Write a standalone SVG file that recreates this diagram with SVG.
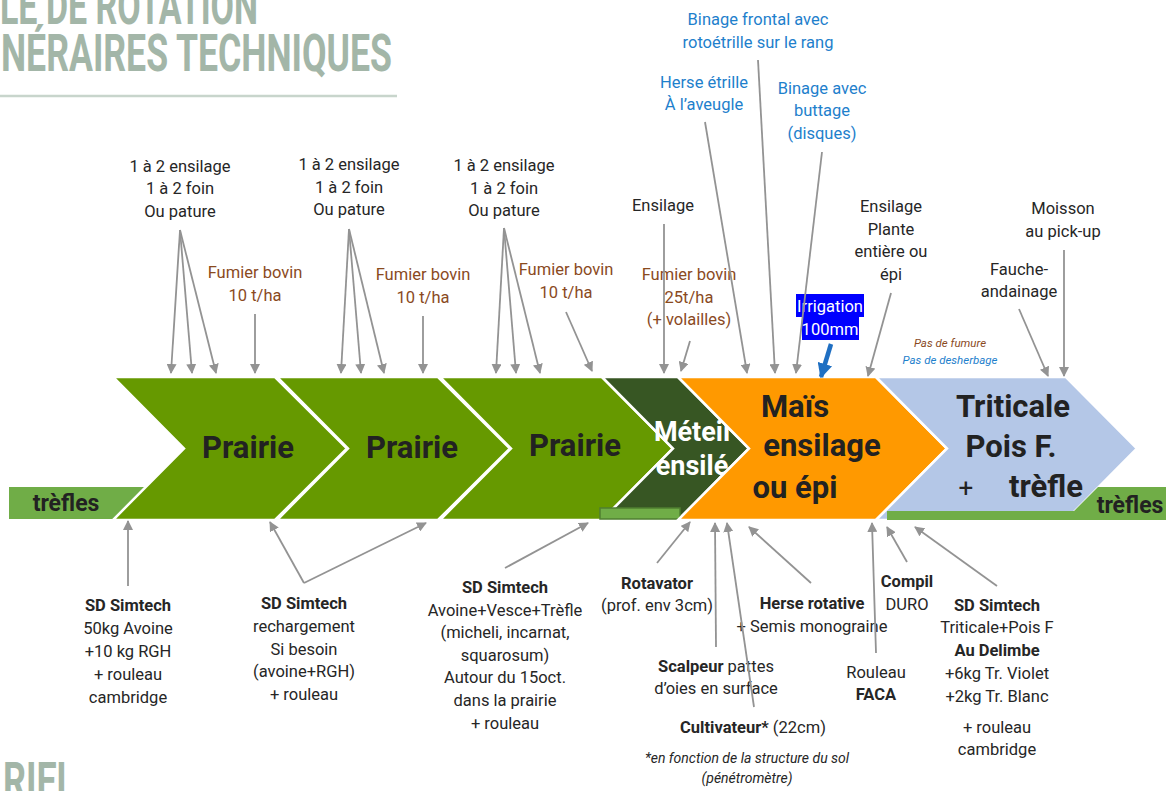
<svg xmlns="http://www.w3.org/2000/svg" width="1171" height="791" viewBox="0 0 1171 791">
<defs>
<marker id="ah" viewBox="0 0 10 10" refX="9" refY="5" markerWidth="10" markerHeight="10" orient="auto" markerUnits="userSpaceOnUse"><path d="M0,0 L10,5 L0,10 z" fill="#939393"/></marker>
<marker id="ahb" viewBox="0 0 10 10" refX="9" refY="5" markerWidth="15" markerHeight="15" orient="auto" markerUnits="userSpaceOnUse"><path d="M0,0 L10,5 L0,10 z" fill="#1F6FC2"/></marker>
<style>
text{font-family:Roboto,"Liberation Sans",sans-serif;font-size:16.5px;fill:#262626;text-anchor:middle}
.b{font-weight:bold}
.br{fill:#8A4A1E}
.bl{fill:#1E80CC}
.w{fill:#fff}
.big{font-size:31px;font-weight:bold;fill:#222}
.title{font-size:51px;font-weight:bold;fill:#A3B6A8;text-anchor:start}
.it{font-style:italic}
.chev{stroke:#fff;stroke-width:2.5;stroke-linejoin:miter}
.con path{fill:none;stroke:#939393;stroke-width:1.8;marker-end:url(#ah)}
</style>
</defs>
<rect width="1171" height="791" fill="#fff"/>
<g id="title">
<text class="title" x="0" y="24" textLength="258" lengthAdjust="spacingAndGlyphs">LE DE ROTATION</text>
<text class="title" x="1" y="71" textLength="391" lengthAdjust="spacingAndGlyphs">NÉRAIRES TECHNIQUES</text>
<line x1="0" y1="96" x2="397" y2="96" stroke="#C8D5CC" stroke-width="2.5"/>
<text class="title" x="3" y="799" textLength="73" lengthAdjust="spacingAndGlyphs">RIEL</text>
</g>
<g id="band">
<rect x="9" y="487" width="165" height="32" fill="#70AD47"/>
<text class="b" x="66" y="511" style="font-size:23px;fill:#222">trèfles</text>
<g id="prairie1"><polygon class="chev" fill="#669900" points="113,377 275,377 347,448.5 275,520 113,520 184,448.5"/><text class="big" x="248" y="458">Prairie</text></g>
<g id="prairie2"><polygon class="chev" fill="#669900" points="277,377 438,377 510,448.5 438,520 277,520 348,448.5"/><text class="big" x="412" y="458">Prairie</text></g>
<g id="prairie3"><polygon class="chev" fill="#669900" points="440,377 602,377 673,448.5 602,520 440,520 511,448.5"/><text class="big" x="575" y="456">Prairie</text></g>
<g id="meteil"><polygon class="chev" fill="#375623" points="602,377 678,377 749,448.5 678,520 602,520 673,448.5"/>
<rect x="600" y="508" width="80" height="11" fill="#70AD47" stroke="#4F7F30" stroke-width="1.5"/>
<text class="big w" x="692" y="441" style="font-size:27px;fill:#fff">Méteil</text><text class="big w" x="692" y="475" style="font-size:27px;fill:#fff">ensilé</text></g>
<g id="mais"><polygon class="chev" fill="#FF9900" points="678,377 876,377 947,448.5 876,520 678,520 749,448.5"/>
<text class="big" x="795" y="417">Maïs</text><text class="big" x="822" y="456">ensilage</text><text class="big" x="795" y="498">ou épi</text></g>
<g id="triticale"><polygon class="chev" fill="#B4C7E7" points="876,377 1066,377 1137,448.5 1066,520 876,520 947,448.5"/>
<text class="big" x="1013" y="417">Triticale</text><text class="big" x="1011" y="457">Pois F.</text><text class="big" x="966" y="497" style="font-weight:normal;font-size:26px">+</text><text class="big" x="1046" y="497">trèfle</text>
<polygon fill="#70AD47" points="887,511 1074,511 1098,487 1166,487 1166,520 887,520"/>
<text class="b" x="1130" y="513" style="font-size:23px;fill:#222">trèfles</text></g>
</g>
<g id="top-labels">
<g id="t1"><text x="180" y="171.5">1 à 2 ensilage</text><text x="180" y="194">1 à 2 foin</text><text x="180" y="216.5">Ou pature</text></g>
<g id="t2"><text x="349" y="170">1 à 2 ensilage</text><text x="349" y="192.5">1 à 2 foin</text><text x="349" y="215">Ou pature</text></g>
<g id="t3"><text x="504" y="171">1 à 2 ensilage</text><text x="504" y="193.5">1 à 2 foin</text><text x="504" y="216">Ou pature</text></g>
<g id="f1"><text class="br" x="255" y="278">Fumier bovin</text><text class="br" x="255" y="300.5">10 t/ha</text></g>
<g id="f2"><text class="br" x="423" y="280">Fumier bovin</text><text class="br" x="423" y="302.5">10 t/ha</text></g>
<g id="f3"><text class="br" x="566" y="275">Fumier bovin</text><text class="br" x="566" y="297.5">10 t/ha</text></g>
<g id="ens"><text x="663" y="211">Ensilage</text></g>
<g id="f4"><text class="br" x="689" y="280">Fumier bovin</text><text class="br" x="689" y="302.5">25t/ha</text><text class="br" x="689" y="325">(+ volailles)</text></g>
<g id="binfront"><text class="bl" x="758" y="25">Binage frontal avec</text><text class="bl" x="758" y="47.5">rotoétrille sur le rang</text></g>
<g id="herse"><text class="bl" x="704" y="87.5">Herse étrille</text><text class="bl" x="704" y="110">À l’aveugle</text></g>
<g id="binbut"><text class="bl" x="822" y="93.5">Binage avec</text><text class="bl" x="822" y="116">buttage</text><text class="bl" x="822" y="138.5">(disques)</text></g>
<g id="irrig"><rect x="796" y="294" width="68" height="23" fill="#0000FF"/><rect x="802" y="317" width="57" height="23" fill="#0000FF"/><text class="w" x="830" y="312">Irrigation</text><text class="w" x="830" y="335">100mm</text></g>
<g id="ensplante"><text x="891" y="212">Ensilage</text><text x="891" y="234.5">Plante</text><text x="891" y="257">entière ou</text><text x="891" y="279.5">épi</text></g>
<g id="pas"><text class="br it" x="950" y="347" style="font-size:11.5px">Pas de fumure</text><text class="bl it" x="950" y="364" style="font-size:11.5px">Pas de desherbage</text></g>
<g id="fauche"><text x="1019" y="274.5">Fauche-</text><text x="1019" y="297">andainage</text></g>
<g id="moisson"><text x="1063" y="214">Moisson</text><text x="1063" y="236.5">au pick-up</text></g>
</g>
<g id="bottom-labels">
<g id="s1"><text class="b" x="128" y="610.5">SD Simtech</text><text x="128" y="633.5">50kg Avoine</text><text x="128" y="656.5">+10 kg RGH</text><text x="128" y="679.5">+ rouleau</text><text x="128" y="702.5">cambridge</text></g>
<g id="s2"><text class="b" x="304" y="608.5">SD Simtech</text><text x="304" y="631.5">rechargement</text><text x="304" y="654.5">Si besoin</text><text x="304" y="677">(avoine+RGH)</text><text x="304" y="700">+ rouleau</text></g>
<g id="s3"><text class="b" x="505" y="593">SD Simtech</text><text x="505" y="615.6">Avoine+Vesce+Trèfle</text><text x="505" y="638.2">(micheli, incarnat,</text><text x="505" y="660.8">squarosum)</text><text x="505" y="683.4">Autour du 15oct.</text><text x="505" y="706">dans la prairie</text><text x="505" y="728.6">+ rouleau</text></g>
<g id="rotav"><text class="b" x="657" y="588.5">Rotavator</text><text x="657" y="611">(prof. env 3cm)</text></g>
<g id="scalp"><text x="716" y="671.5"><tspan class="b">Scalpeur</tspan> pattes</text><text x="716" y="694">d’oies en surface</text></g>
<g id="cultiv"><text x="753" y="732.5"><tspan class="b">Cultivateur*</tspan> (22cm)</text></g>
<g id="note"><text class="it" x="747" y="763" style="font-size:14px">*en fonction de la structure du sol</text><text class="it" x="747" y="783" style="font-size:14px">(pénétromètre)</text></g>
<g id="herserot"><text class="b" x="812" y="608.5">Herse rotative</text><text x="812" y="631.5">+ Semis monograine</text></g>
<g id="rouleau"><text x="876" y="677.5">Rouleau</text><text class="b" x="876" y="700">FACA</text></g>
<g id="compil"><text class="b" x="907" y="586.5">Compil</text><text x="907" y="609.5">DURO</text></g>
<g id="s4"><text class="b" x="997" y="610.5">SD Simtech</text><text x="997" y="633.3">Triticale+Pois F</text><text class="b" x="997" y="656">Au Delimbe</text><text x="997" y="678.8">+6kg Tr. Violet</text><text x="997" y="701.5">+2kg Tr. Blanc</text><text x="997" y="732.5">+ rouleau</text><text x="997" y="755">cambridge</text></g>
</g>
<g id="connectors" class="con">
<path d="M180,230 L171,373"/><path d="M180,230 L192,373"/><path d="M180,230 L216,373"/>
<path d="M349,229 L341,373"/><path d="M349,229 L361,373"/><path d="M349,229 L384,373"/>
<path d="M504,228 L496,373"/><path d="M504,228 L516,373"/><path d="M504,228 L540,373"/>
<path d="M255,314 L255,373"/><path d="M423,316 L423,373"/><path d="M566,312 L592,371"/>
<path d="M664,224 L664,373"/><path d="M690,341 L681,371"/>
<path d="M705,122 L747,373"/><path d="M758,60 L775,373"/><path d="M822,152 L796,373"/>
<path d="M891,293 L868,376"/><path d="M1019,309 L1048,376"/><path d="M1064,250 L1064,376"/>
<path d="M831,344 L821,377" style="stroke:#1F6FC2;stroke-width:4.5;marker-end:url(#ahb)"/>
<path d="M128,586 L128,521"/><path d="M304,583 L270,522"/><path d="M304,583 L426,523"/>
<path d="M505,568 L588,523"/><path d="M657,563 L690,522"/><path d="M716,647 L715,523"/>
<path d="M754,707 L727,523"/><path d="M811,583 L749,527"/><path d="M876,653 L872,523"/>
<path d="M907,562 L887,527"/><path d="M997,586 L915,527"/>
</g>
</svg>
